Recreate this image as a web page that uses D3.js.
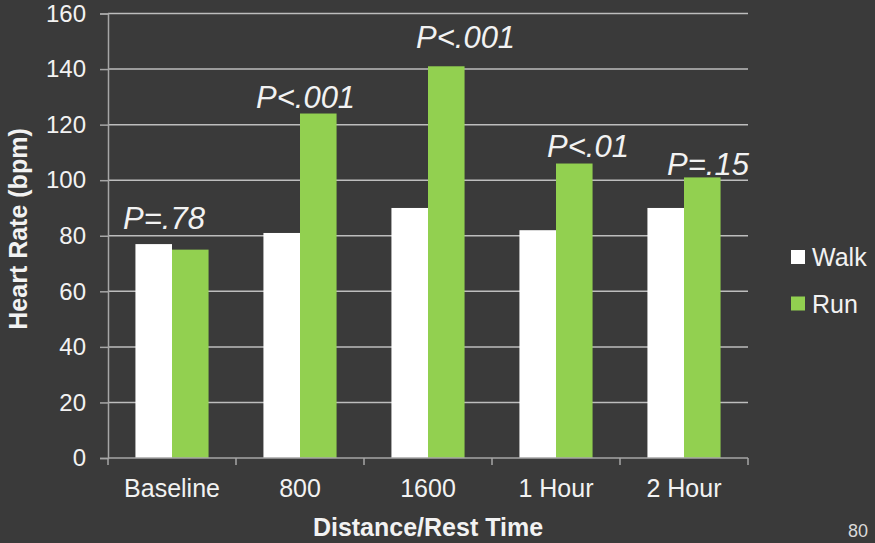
<!DOCTYPE html>
<html>
<head>
<meta charset="utf-8">
<script src="https://cdn.jsdelivr.net/npm/d3@7"></script>
<style>
  html, body { margin: 0; padding: 0; background: #3a3a3a; }
  svg { display: block; font-family: "Liberation Sans", Arial, sans-serif; }
</style>
</head>
<body>
<svg id="chart" width="875" height="543"></svg>
<script>
// Heart rate by distance / rest time, walking vs running
const categories = ["Baseline", "800", "1600", "1 Hour", "2 Hour"];
const seriesNames = ["Walk", "Run"];
const walkValues = [77, 81, 90, 82, 90];
const runValues = [75, 124, 141, 106, 101];
const pLabels = ["P=.78", "P<.001", "P<.001", "P<.01", "P=.15"];
const yTicks = [0, 20, 40, 60, 80, 100, 120, 140, 160];

// hand placement of the significance labels relative to the Run bar (px)
const pLabelOffset = [[-49, -21], [-44, -6], [-12, -18], [-9, -7], [-17, -2]];

const W = 875, H = 543;
const plot = { left: 108, right: 748, top: 13.5, bottom: 458 };
const colors = { Walk: "#ffffff", Run: "#92d050" };
const textColor = "#f2f2f2";
const gridColor = "#bdbdbd";
const axisColor = "#a6a6a6";

const svg = d3.select("#chart");
svg.append("rect").attr("width", W).attr("height", H).attr("fill", "#3a3a3a");

const x = d3.scaleBand().domain(categories).range([plot.left, plot.right]).padding(0);
const xSub = d3.scaleBand().domain(seriesNames).range([0, x.bandwidth()])
  .paddingInner(0).paddingOuter(0.75);
const y = d3.scaleLinear().domain([0, 160]).range([plot.bottom, plot.top]);

// gridlines
svg.append("g").selectAll("line").data(yTicks.filter(d => d > 0)).join("line")
  .attr("x1", plot.left).attr("x2", plot.right)
  .attr("y1", d => y(d)).attr("y2", d => y(d))
  .attr("stroke", gridColor).attr("stroke-width", 1.5);

// y axis
const yAxis = svg.append("g").attr("transform", `translate(${plot.left},0)`)
  .call(d3.axisLeft(y).tickValues(yTicks).tickSize(8).tickPadding(14));
yAxis.select(".domain").attr("stroke", axisColor).attr("stroke-width", 1.5);
yAxis.selectAll(".tick line").attr("stroke", axisColor).attr("stroke-width", 1.5);
yAxis.selectAll(".tick text").attr("fill", textColor).attr("font-size", 24)
  .attr("font-family", "Liberation Sans, Arial, sans-serif");

// bars
const rows = categories.map((c, i) => ({ cat: c, Walk: walkValues[i], Run: runValues[i] }));
const groups = svg.append("g").selectAll("g").data(rows).join("g")
  .attr("transform", d => `translate(${x(d.cat)},0)`);
groups.selectAll("rect")
  .data(d => seriesNames.map(s => ({ s, v: d[s] })))
  .join("rect")
  .attr("x", d => xSub(d.s))
  .attr("width", xSub.bandwidth())
  .attr("y", d => y(d.v))
  .attr("height", d => y(0) - y(d.v))
  .attr("fill", d => colors[d.s]);

// x axis (ticks between categories)
const xAxis = svg.append("g").attr("transform", `translate(0,${plot.bottom})`);
xAxis.append("line").attr("x1", plot.left).attr("x2", plot.right)
  .attr("stroke", axisColor).attr("stroke-width", 1.5);
const bounds = categories.map(c => x(c)).concat([plot.right]);
xAxis.selectAll("line.tk").data(bounds).join("line").attr("class", "tk")
  .attr("x1", d => d).attr("x2", d => d).attr("y1", 0).attr("y2", 7)
  .attr("stroke", axisColor).attr("stroke-width", 1.5);
xAxis.selectAll("text").data(categories).join("text")
  .attr("x", d => x(d) + x.bandwidth() / 2).attr("y", 39)
  .attr("text-anchor", "middle").attr("fill", textColor).attr("font-size", 25)
  .text(d => d);

// significance labels
svg.append("g").selectAll("text").data(rows).join("text")
  .attr("x", (d, i) => x(d.cat) + xSub("Run") + pLabelOffset[i][0])
  .attr("y", (d, i) => y(d.Run) + pLabelOffset[i][1])
  .attr("fill", textColor).attr("font-size", 31).attr("font-style", "italic")
  .text((d, i) => pLabels[i]);

// axis titles
svg.append("text").attr("x", (plot.left + plot.right) / 2).attr("y", 536)
  .attr("text-anchor", "middle").attr("fill", textColor)
  .attr("font-size", 25).attr("font-weight", "bold").text("Distance/Rest Time");
svg.append("text").attr("transform", "translate(27,229) rotate(-90)")
  .attr("text-anchor", "middle").attr("fill", textColor)
  .attr("font-size", 25).attr("font-weight", "bold").text("Heart Rate (bpm)");

// legend
const legend = svg.append("g").attr("transform", "translate(791,250)");
const items = legend.selectAll("g").data(seriesNames).join("g")
  .attr("transform", (d, i) => `translate(0,${i * 46.5})`);
items.append("rect").attr("width", 14).attr("height", 14).attr("fill", d => colors[d]);
items.append("text").attr("x", 21).attr("y", 16).attr("fill", textColor)
  .attr("font-size", 25).text(d => d);

// page number
svg.append("text").attr("x", 868).attr("y", 537).attr("text-anchor", "end")
  .attr("fill", "#d9d9d9").attr("font-size", 18).text("80");
</script>
</body>
</html>
